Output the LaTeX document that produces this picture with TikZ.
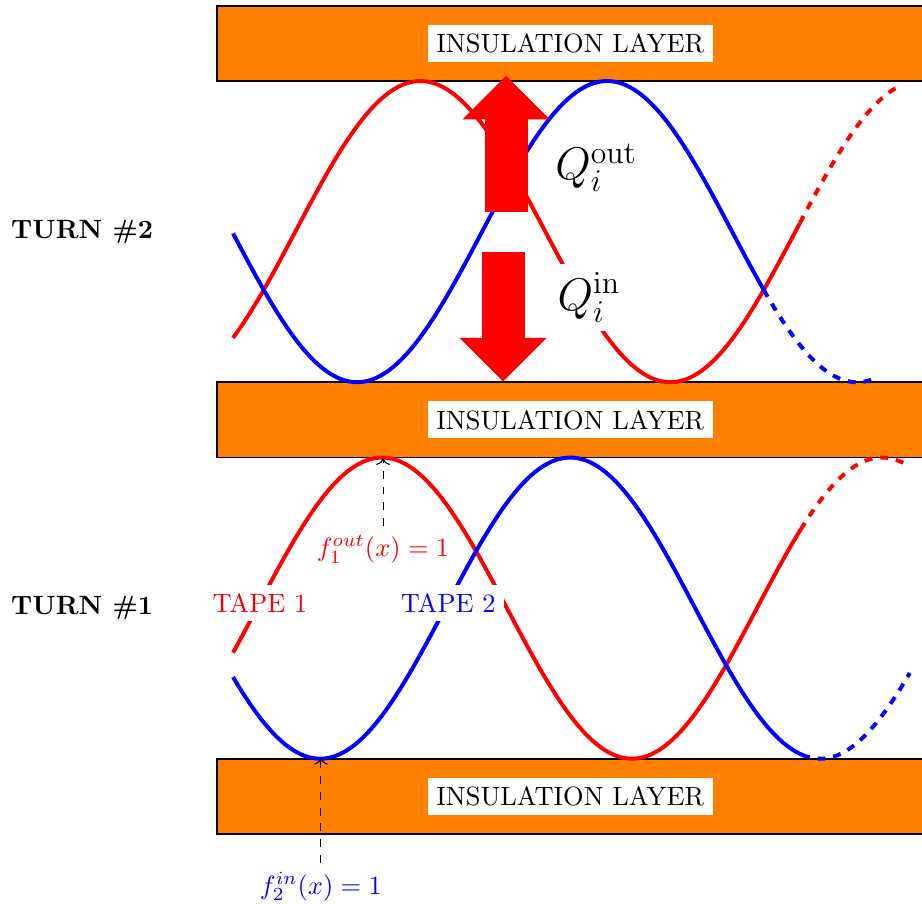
\documentclass[tikz,border=0pt]{standalone}
\usepackage{tikz}
\usetikzlibrary{arrows.meta, calc}
\usepackage{amsmath}

\newcommand\halfp{3.32}

\begin{document}
\begin{tikzpicture}[
    layer/.style={draw=black, line width=0.6pt, fill=orange, inner sep=0pt,
                  minimum width=9.38cm, minimum height=1cm},
    tag/.style={fill=white},
    tape/.style={line width=1.5pt},
    heat/.style={draw=red, line width=0.57cm,
                 -{Triangle[width=1.16cm, length=0.58cm, line width=0pt]}},
    pointer/.style={->, dashed, black}
  ]
  \useasboundingbox (-2.882,-0.916) rectangle (9.362,11.076);
  \clip (-2.882,-0.916) rectangle (9.362,11.076);

  % Insulation layers
  \node[layer] (L0) at (4.69,0.5) {};
  \node[layer] (L1) at (4.69,5.5) {};
  \node[layer] (L2) at (4.69,10.5) {};
  \node[tag] (T0) at (L0) {INSULATION LAYER};
  \node[tag] (T1) at (L1) {INSULATION LAYER};
  \node[tag] (T2) at (L2) {INSULATION LAYER};

  % Turn #1 tapes
  \draw[tape, red] plot[domain=0.2125:7.75, samples=120]
    (\x, {3+2*cos(180*(\x-2.19)/\halfp)});
  \draw[tape, red, dashed] plot[domain=7.75:9.18, samples=40]
    (\x, {3+2*cos(180*(\x-2.19)/\halfp)});
  \draw[tape, blue] plot[domain=0.2125:7.77, samples=120]
    (\x, {3-2*cos(180*(\x-1.37)/\halfp)});
  \draw[tape, blue, dashed] plot[domain=7.77:9.2, samples=40]
    (\x, {3-2*cos(180*(\x-1.37)/\halfp)});

  % Turn #2 tapes
  \draw[tape, red] plot[domain=0.2125:7.74, samples=120]
    (\x, {8+2*cos(180*(\x-2.70)/\halfp)});
  \draw[tape, red, dashed] plot[domain=7.74:9.1, samples=40]
    (\x, {8+2*cos(180*(\x-2.70)/\halfp)});
  \draw[tape, blue] plot[domain=0.2125:7.26, samples=120]
    (\x, {8-2*cos(180*(\x-1.86)/\halfp)});
  \draw[tape, blue, dashed] plot[domain=7.26:8.7, samples=40]
    (\x, {8-2*cos(180*(\x-1.86)/\halfp)});

  % Turn labels
  \node[font=\bfseries] (turn1) at (-1.79,3.0) {TURN \#1};
  \node[font=\bfseries] (turn2) at (-1.79,8.0) {TURN \#2};

  % Tape labels
  \node[tag, text=red] (tape1) at (0.57,3.07) {TAPE 1};
  \node[tag, text=blue] (tape2) at (3.07,3.07) {TAPE 2};

  % Contact points
  \node[text=red] (f1) at (2.205,3.78) {$f_1^{out}(x) = 1$};
  \draw[pointer] (f1) -- (f1 |- L1.south);
  \node[text=blue] (f2) at (1.38,-0.70) {$f_2^{in}(x) = 1$};
  \draw[pointer] (f2) -- (f2 |- L0.north);

  % Heat flow
  \coordinate (outfoot) at (3.84,8.26);
  \coordinate (infoot) at (3.80,7.73);
  \draw[heat] (outfoot) -- ([yshift=0.08cm]outfoot |- L2.south);
  \draw[heat] (infoot) -- (infoot |- L1.north);
  \node[anchor=west, font=\LARGE] (qout) at (4.37,8.85) {$Q_i^{\mathrm{out}}$};
  \node[anchor=west, font=\LARGE, tag] (qin) at (4.40,7.125) {$Q_i^{\mathrm{in}}$};
\end{tikzpicture}
\end{document}
